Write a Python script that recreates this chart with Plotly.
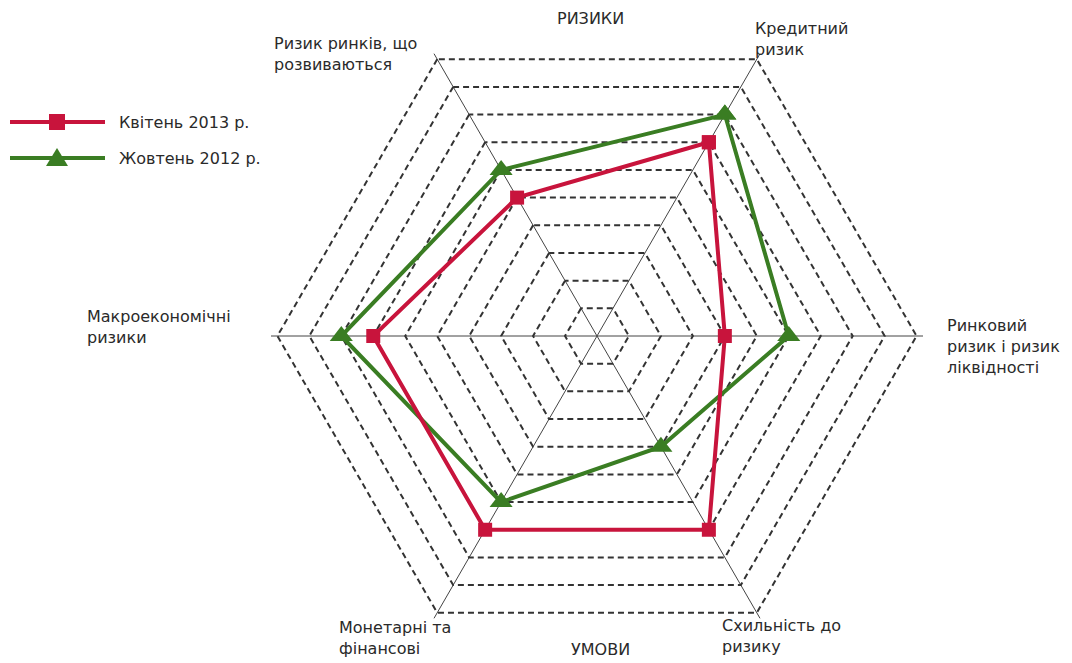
import plotly.graph_objects as go

# Risk map categories, clockwise from the upper-right spoke
categories = [
    "Кредитний ризик",
    "Ринковий ризик і ризик ліквідності",
    "Схильність до ризику",
    "Монетарні та фінансові умови",
    "Макроекономічні ризики",
    "Ризик ринків, що розвиваються",
]
axis_labels = [
    "Кредитний<br>ризик",
    "Ринковий<br>ризик і ризик<br>ліквідності",
    "Схильність до<br>ризику",
    "Монетарні та<br>фінансові",
    "Макроекономічні<br>ризики",
    "Ризик ринків, що<br>розвиваються",
]
group_titles = ["РИЗИКИ", "УМОВИ"]

series_names = ["Квітень 2013 р.", "Жовтень 2012 р."]
apr_2013 = [7, 4, 7, 7, 7, 5]
oct_2012 = [8, 6, 4, 6, 8, 6]

W, H = 1072, 663
RED = "#C8143C"
GREEN = "#3A7D23"
TEXT = "#2a2a2a"
FONT = "DejaVu Sans"
FS = 16


def px(x, y):
    return x / W, 1 - y / H


def closed(v):
    return list(v) + [v[0]]


fig = go.Figure()

fig.add_trace(go.Scatterpolar(
    r=closed(oct_2012), theta=closed(categories), name=series_names[1],
    mode="lines+markers",
    line=dict(color=GREEN, width=4),
    marker=dict(symbol="triangle-up", size=20, color=GREEN),
    showlegend=False,
))
fig.add_trace(go.Scatterpolar(
    r=closed(apr_2013), theta=closed(categories), name=series_names[0],
    mode="lines+markers",
    line=dict(color=RED, width=4),
    marker=dict(symbol="square", size=14, color=RED),
    showlegend=False,
))

# Spoke labels (top-left corner of each text block, in pixels)
label_pos = [(753, 17), (945, 314), (720, 614), (337, 616), (85, 305), (272, 32)]
annotations = []
for text, (lx, ly) in zip(axis_labels, label_pos):
    x, y = px(lx, ly)
    annotations.append(dict(x=x, y=y, xref="paper", yref="paper", text=text,
                            showarrow=False, xanchor="left", yanchor="top", align="left",
                            font=dict(family=FONT, size=FS, color=TEXT)))

for text, (cx, cy) in zip(group_titles, [(590, 7), (600, 638)]):
    x, y = px(cx, cy)
    annotations.append(dict(x=x, y=y, xref="paper", yref="paper", text=text,
                            showarrow=False, xanchor="center", yanchor="top",
                            font=dict(family=FONT, size=FS, color=TEXT)))

# Legend drawn as long line samples with a marker in the middle
shapes = []
legend_rows = [(122, RED, "square"), (158, GREEN, "triangle")]
for name, (ry, col, sym) in zip(series_names, legend_rows):
    x0, y0 = px(10, ry)
    x1, _ = px(105, ry)
    shapes.append(dict(type="line", xref="paper", yref="paper", x0=x0, x1=x1, y0=y0, y1=y0,
                       line=dict(color=col, width=4)))
    if sym == "square":
        a, b = px(49, ry - 8)
        c, d = px(65, ry + 8)
        shapes.append(dict(type="rect", xref="paper", yref="paper", x0=a, y0=b, x1=c, y1=d,
                           fillcolor=col, line=dict(width=0)))
    else:
        tx, ty = px(57, ry - 10)
        lx_, ly_ = px(46, ry + 8)
        rx_, ry_ = px(68, ry + 8)
        shapes.append(dict(type="path", xref="paper", yref="paper",
                           path=f"M{lx_},{ly_} L{tx},{ty} L{rx_},{ry_} Z",
                           fillcolor=col, line=dict(width=0)))
    tx0, ty0 = px(117, ry)
    annotations.append(dict(x=tx0, y=ty0, xref="paper", yref="paper", text=name,
                            showarrow=False, xanchor="left", yanchor="middle",
                            font=dict(family=FONT, size=FS, color=TEXT)))

# Polar area: level 10 sits at ~320 px, spokes run a little past it
R_MAX = 10.2
R = 326
CX, CY = 597, 336
fig.update_layout(
    width=W, height=H,
    margin=dict(l=0, r=0, t=0, b=0),
    paper_bgcolor="white",
    plot_bgcolor="white",
    showlegend=False,
    annotations=annotations,
    shapes=shapes,
    polar=dict(
        domain=dict(x=[(CX - R) / W, (CX + R) / W], y=[(H - CY - R) / H, (H - CY + R) / H]),
        gridshape="linear",
        bgcolor="white",
        angularaxis=dict(direction="clockwise", rotation=60, showticklabels=False, ticks="",
                         showline=False, showgrid=True, gridcolor="#444", gridwidth=1),
        radialaxis=dict(range=[0, R_MAX], dtick=1, showticklabels=False, ticks="",
                        showline=False, showgrid=True, gridcolor="#333", gridwidth=1.6,
                        griddash="6px,4px"),
    ),
)

fig.write_html("out.html")
